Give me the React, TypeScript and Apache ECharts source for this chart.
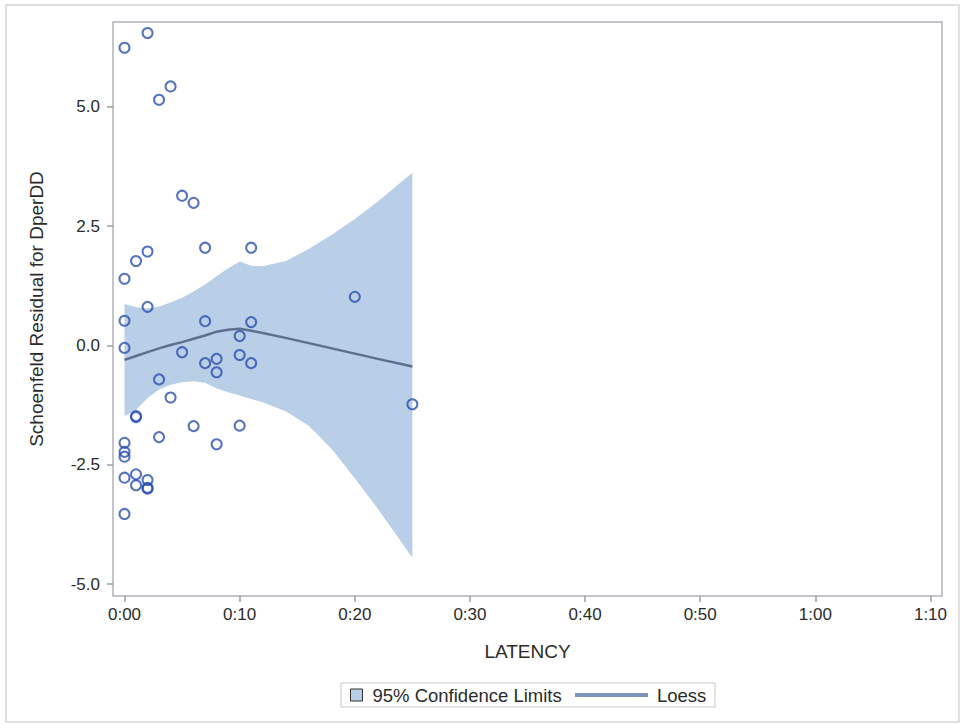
import React, { useEffect, useRef } from 'react';
import * as echarts from 'echarts';

// Observations: latency (minutes) and Schoenfeld residuals
const latency = [
  0, 0, 0, 0, 0, 0, 0, 0, 0,
  1, 1, 1, 1, 1,
  2, 2, 2, 2, 2, 2,
  3, 3, 3,
  4, 4,
  5, 5,
  6, 6,
  7, 7, 7,
  8, 8, 8,
  10, 10, 10,
  11, 11, 11,
  20,
  25,
];
const residual = [
  6.24, 1.40, 0.52, -0.05, -2.04, -2.23, -2.33, -2.77, -3.53,
  1.77, -1.48, -1.50, -2.70, -2.93,
  6.55, 1.97, 0.81, -2.82, -2.98, -3.00,
  5.15, -0.71, -1.92,
  5.43, -1.09,
  3.14, -0.14,
  2.99, -1.69,
  2.05, 0.51, -0.37,
  -0.28, -0.56, -2.07,
  0.20, -0.20, -1.68,
  2.05, 0.49, -0.37,
  1.02,
  -1.23,
];

// Loess fit and 95% confidence limits
const fitX = [0, 1, 2, 3, 4, 5, 6, 7, 8, 9, 10, 11, 12, 14, 16, 18, 20, 22, 25];
const loessFit = [-0.30, -0.22, -0.14, -0.06, 0.01, 0.07, 0.14, 0.21, 0.29, 0.33, 0.35, 0.31, 0.26, 0.16, 0.05, -0.06, -0.17, -0.28, -0.44];
const upperCL = [0.87, 0.80, 0.78, 0.82, 0.90, 1.00, 1.13, 1.28, 1.45, 1.62, 1.76, 1.67, 1.66, 1.77, 2.02, 2.32, 2.65, 3.02, 3.62];
const lowerCL = [-1.48, -1.35, -1.10, -0.92, -0.82, -0.77, -0.75, -0.78, -0.90, -0.98, -1.05, -1.12, -1.19, -1.38, -1.68, -2.17, -2.78, -3.42, -4.45];

const xTicks = [0, 10, 20, 30, 40, 50, 60, 70];
const yTicks = [-5, -2.5, 0, 2.5, 5];

const FONT = "'Liberation Sans', Arial, Helvetica, sans-serif";
const TEXT = '#2b2b2b';

const fmtTime = (v: number) => `${Math.floor(v / 60)}:${String(Math.round(v % 60)).padStart(2, '0')}`;

export default function App() {
  const ref = useRef<HTMLDivElement>(null);

  useEffect(() => {
    document.body.style.margin = '0';
    const chart = echarts.init(ref.current!, null, { renderer: 'svg' });
    chart.setOption({
      animation: false,
      backgroundColor: '#ffffff',
      textStyle: { fontFamily: FONT },
      grid: {
        left: 113, top: 22, right: 22, bottom: 128,
        show: true, borderColor: '#aeb3b8', borderWidth: 1.5, backgroundColor: 'transparent',
      },
      xAxis: {
        type: 'value', min: -1, max: 71,
        name: 'LATENCY', nameLocation: 'middle', nameGap: 46,
        nameTextStyle: { fontSize: 19, color: TEXT, fontFamily: FONT },
        axisLine: { show: false, onZero: false },
        splitLine: { show: false },
        axisTick: { show: true, length: 6, lineStyle: { color: '#9a9ea3', width: 1.5 }, customValues: xTicks },
        axisLabel: { customValues: xTicks, formatter: fmtTime, fontSize: 17, color: TEXT, margin: 10, fontFamily: FONT },
      },
      yAxis: {
        type: 'value', min: -5.25, max: 6.78,
        name: 'Schoenfeld Residual for DperDD', nameLocation: 'middle', nameGap: 67, nameRotate: 90,
        nameTextStyle: { fontSize: 19, color: TEXT, fontFamily: FONT },
        axisLine: { show: false, onZero: false },
        splitLine: { show: false },
        axisTick: { show: true, length: 6, lineStyle: { color: '#9a9ea3', width: 1.5 }, customValues: yTicks },
        axisLabel: { customValues: yTicks, formatter: (v: number) => v.toFixed(1), fontSize: 17, color: TEXT, margin: 13, fontFamily: FONT },
      },
      legend: [
        {
          left: 350, top: 685, padding: 0, itemWidth: 12, itemHeight: 12, selectedMode: false,
          data: [{ name: '95% Confidence Limits', icon: 'rect', itemStyle: { color: '#b9cee7', borderColor: '#333333', borderWidth: 1 } }],
          textStyle: { fontSize: 18.5, color: TEXT, lineHeight: 20, fontFamily: FONT, padding: [0, 0, 0, 5] },
        },
        {
          left: 575, top: 685, padding: 0, itemWidth: 73, itemHeight: 4, selectedMode: false,
          data: [{ name: 'Loess', icon: 'rect', itemStyle: { color: '#7d93bb', borderWidth: 0 } }],
          textStyle: { fontSize: 18.5, color: TEXT, lineHeight: 20, fontFamily: FONT, padding: [0, 0, 0, 4] },
        },
      ],
      graphic: [
        {
          type: 'rect', silent: true, z: 0,
          shape: { x: 6, y: 5, width: 953, height: 717 },
          style: { fill: 'none', stroke: '#d6d6d6', lineWidth: 1.5 },
        },
        {
          type: 'rect', silent: true, z: 0,
          shape: { x: 341, y: 683, width: 374, height: 24 },
          style: { fill: 'none', stroke: '#c8c8c8', lineWidth: 1 },
        },
      ],
      series: [
        {
          type: 'custom',
          name: '95% Confidence Limits',
          silent: true,
          z: 1,
          itemStyle: { color: '#b9cee7' },
          data: fitX.map((x, i) => [x, lowerCL[i], upperCL[i]]),
          encode: { x: 0, y: [1, 2] },
          renderItem: (params: any, api: any) => {
            if (params.dataIndex !== 0) return null;
            const pts: number[][] = [];
            for (let i = 0; i < fitX.length; i++) pts.push(api.coord([fitX[i], upperCL[i]]));
            for (let i = fitX.length - 1; i >= 0; i--) pts.push(api.coord([fitX[i], lowerCL[i]]));
            return { type: 'polygon', shape: { points: pts }, style: { fill: '#b9cee7' } };
          },
        },
        {
          type: 'line',
          name: 'Loess',
          z: 2,
          silent: true,
          showSymbol: false,
          lineStyle: { color: '#5d6f8f', width: 2.5 },
          itemStyle: { color: '#7d93bb' },
          data: fitX.map((x, i) => [x, loessFit[i]]),
        },
        {
          type: 'scatter',
          name: 'Residuals',
          z: 3,
          silent: true,
          symbol: 'circle',
          symbolSize: 10,
          itemStyle: { color: 'rgba(0,0,0,0)', borderColor: '#2a4fae', borderWidth: 2 },
          data: latency.map((x, i) => [x, residual[i]]),
        },
      ],
    });
    return () => chart.dispose();
  }, []);

  return <div ref={ref} style={{ width: 964, height: 724 }} />;
}
